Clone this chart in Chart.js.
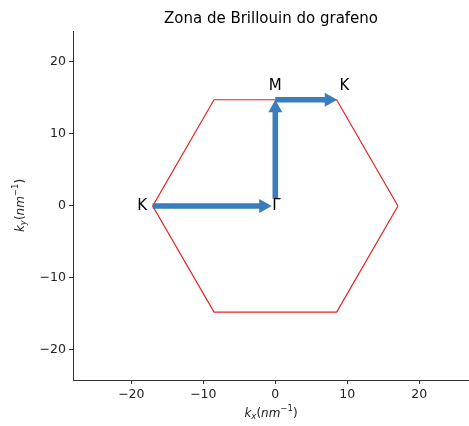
<!DOCTYPE html>
<html>
<head>
<meta charset="utf-8">
<script src="https://cdn.jsdelivr.net/npm/chart.js@4/dist/chart.umd.min.js"></script>
<style>
  html, body { margin: 0; padding: 0; background: #fff; }
  #wrap { width: 469px; height: 426px; }
</style>
</head>
<body>
<div id="wrap"><canvas id="c"></canvas></div>
<script>
// Graphene first Brillouin zone (nm^-1)
const hexKx = [17.03, 8.515, -8.515, -17.03, -8.515, 8.515, 17.03];
const hexKy = [0, 14.75, 14.75, 0, -14.75, -14.75, 0];

// High-symmetry path arrows: K -> Γ, Γ -> M, M -> K
const arrowFromX = [-17.03, 0, 0];
const arrowFromY = [0, 1.0, 14.75];
const arrowToX = [-0.5, 0, 8.6];
const arrowToY = [0, 14.75, 14.75];

// Point labels
const pointNames = ['K', 'Γ', 'M', 'K'];
const pointX = [-18.5, 0.15, 0, 9.6];
const pointY = [0, 0, 16.6, 16.6];

const xTicks = [-20, -10, 0, 10, 20];
const yTicks = [-20, -10, 0, 10, 20];

const chartTitle = 'Zona de Brillouin do grafeno';
const xTitle = ['k', 'x', '(', 'nm', '−1', ')'];
const yTitle = ['k', 'y', '(', 'nm', '−1', ')'];
const FONT = '"DejaVu Sans", sans-serif';
const ARROW = '#3a7dbd';

const fmt = v => (v < 0 ? '\u2212' + Math.abs(v) : String(v));

// k_x(nm^-1) style label: italic k, subscript, upright bracket, italic unit, superscript, bracket
function drawMathLabel(ctx, parts, cx, cy) {
  const it = 'italic 12px ' + FONT, itS = 'italic 8.5px ' + FONT;
  const up = '12px ' + FONT, upS = '8.5px ' + FONT;
  const fonts = [it, itS, up, it, upS, up];
  const shifts = [0, 3, 0, 0, -5, 0];
  let w = 0;
  const widths = parts.map((p, i) => { ctx.font = fonts[i]; const m = ctx.measureText(p).width; w += m; return m; });
  let x = cx - w / 2;
  ctx.textAlign = 'left';
  ctx.textBaseline = 'middle';
  parts.forEach((p, i) => {
    ctx.font = fonts[i];
    ctx.fillText(p, x, cy + shifts[i]);
    x += widths[i];
  });
}

const overlay = {
  id: 'overlay',
  afterDatasetsDraw(chart) {
    const ctx = chart.ctx, xs = chart.scales.x, ys = chart.scales.y;
    const area = chart.chartArea;
    ctx.save();
    // arrows
    ctx.fillStyle = ARROW;
    for (let i = 0; i < arrowFromX.length; i++) {
      const x0 = xs.getPixelForValue(arrowFromX[i]), y0 = ys.getPixelForValue(arrowFromY[i]);
      const x1 = xs.getPixelForValue(arrowToX[i]), y1 = ys.getPixelForValue(arrowToY[i]);
      const dx = x1 - x0, dy = y1 - y0, len = Math.hypot(dx, dy);
      const ux = dx / len, uy = dy / len, nx = -uy, ny = ux;
      const hw = 2.8, headW = 7, headL = 12.5;
      const bx = x1 - ux * headL, by = y1 - uy * headL;
      ctx.beginPath();
      ctx.moveTo(x0 + nx * hw, y0 + ny * hw);
      ctx.lineTo(bx + nx * hw, by + ny * hw);
      ctx.lineTo(bx + nx * headW, by + ny * headW);
      ctx.lineTo(x1, y1);
      ctx.lineTo(bx - nx * headW, by - ny * headW);
      ctx.lineTo(bx - nx * hw, by - ny * hw);
      ctx.lineTo(x0 - nx * hw, y0 - ny * hw);
      ctx.closePath();
      ctx.fill();
    }
    // point labels
    ctx.fillStyle = '#000';
    ctx.font = '15px ' + FONT;
    ctx.textAlign = 'center';
    ctx.textBaseline = 'middle';
    for (let i = 0; i < pointNames.length; i++) {
      ctx.fillText(pointNames[i], xs.getPixelForValue(pointX[i]), ys.getPixelForValue(pointY[i]));
    }
    // title, centred over the plot area
    ctx.font = '15px ' + FONT;
    ctx.textBaseline = 'alphabetic';
    ctx.fillText(chartTitle, (area.left + area.right) / 2, 23);
    // axis titles
    ctx.fillStyle = '#222';
    drawMathLabel(ctx, xTitle, (area.left + area.right) / 2, 414);
    ctx.save();
    ctx.translate(21, (area.top + area.bottom) / 2);
    ctx.rotate(-Math.PI / 2);
    drawMathLabel(ctx, yTitle, 0, 0);
    ctx.restore();
    ctx.restore();
  }
};

new Chart(document.getElementById('c'), {
  type: 'scatter',
  data: {
    datasets: [{
      data: hexKx.map((x, i) => ({ x, y: hexKy[i] })),
      showLine: true,
      borderColor: '#e82020',
      borderWidth: 1.2,
      pointRadius: 0,
      fill: false,
      tension: 0
    }]
  },
  options: {
    responsive: true,
    maintainAspectRatio: false,
    animation: false,
    layout: { padding: { top: 31, right: 0, left: 0, bottom: 0 } },
    plugins: { legend: { display: false }, tooltip: { enabled: false }, title: { display: false } },
    scales: {
      x: {
        type: 'linear', min: -28.1, max: 26.9,
        afterBuildTicks: s => { s.ticks = xTicks.map(v => ({ value: v })); },
        afterFit: s => { s.height = 46; },
        grid: { drawOnChartArea: false, tickLength: 4, color: '#333', tickWidth: 1 },
        border: { color: '#333', width: 1 },
        ticks: { color: '#222', font: { family: FONT, size: 12.5 }, padding: 3, maxRotation: 0, callback: fmt },
        title: { display: false }
      },
      y: {
        type: 'linear', min: -24.17, max: 24.3,
        afterBuildTicks: s => { s.ticks = yTicks.map(v => ({ value: v })); },
        afterFit: s => { s.width = 73; },
        grid: { drawOnChartArea: false, tickLength: 4, color: '#333', tickWidth: 1 },
        border: { color: '#333', width: 1 },
        ticks: { color: '#222', font: { family: FONT, size: 12.5 }, padding: 3, callback: fmt },
        title: { display: false }
      }
    }
  },
  plugins: [overlay]
});
</script>
</body>
</html>
